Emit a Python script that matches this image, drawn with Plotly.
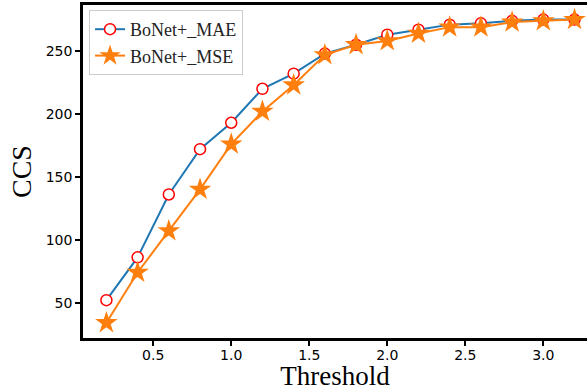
import plotly.graph_objects as go

threshold = [0.2, 0.4, 0.6, 0.8, 1.0, 1.2, 1.4, 1.6, 1.8, 2.0, 2.2, 2.4, 2.6, 2.8, 3.0, 3.2]
ccs_mae = [52, 86, 136, 172, 193, 220, 232, 248, 255, 263, 267, 271, 272, 274, 275, 275]
ccs_mse = [34, 74, 107, 140, 176, 202, 223, 247, 255, 258, 264, 269, 269, 273, 274, 275]
x_ticks = [0.5, 1.0, 1.5, 2.0, 2.5, 3.0]
y_ticks = [50, 100, 150, 200, 250]

fig = go.Figure()
fig.add_trace(go.Scatter(
    x=threshold, y=ccs_mae, mode="lines+markers", name="BoNet+_MAE",
    line=dict(color="#1f77b4", width=2),
    marker=dict(symbol="circle", size=11, color="white", line=dict(color="red", width=1.5)),
))
fig.add_trace(go.Scatter(
    x=threshold, y=ccs_mse, mode="lines+markers", name="BoNet+_MSE",
    line=dict(color="#ff7f0e", width=2),
    marker=dict(symbol="star", size=17, color="#ff7f0e", line=dict(color="#ff7f0e", width=0)),
))

fig.update_layout(
    width=587, height=391,
    margin=dict(l=83, r=0, t=5, b=53),
    paper_bgcolor="white", plot_bgcolor="white",
    showlegend=True,
    legend=dict(
        x=0.012, y=0.985, xanchor="left", yanchor="top",
        font=dict(family="Liberation Serif", size=18, color="#222"),
        bordercolor="#cccccc", borderwidth=1, bgcolor="rgba(255,255,255,0.8)",
        itemwidth=30, tracegroupgap=0,
    ),
    font=dict(family="DejaVu Sans", size=14, color="black"),
)
fig.update_xaxes(
    range=[0.05, 3.28], tickvals=x_ticks, ticktext=[f"{v:.1f}" for v in x_ticks],
    showgrid=False, zeroline=False, showline=True, linecolor="black", linewidth=2.5,
    mirror=True, ticks="outside", ticklen=5, tickwidth=1.5, tickcolor="black",
    ticklabelstandoff=-3,
    title=dict(text="Threshold", font=dict(family="Liberation Serif", size=27, color="black"), standoff=1),
)
fig.update_yaxes(
    range=[21.9, 286.6], tickvals=y_ticks,
    showgrid=False, zeroline=False, showline=True, linecolor="black", linewidth=2.5,
    mirror=False, ticks="outside", ticklen=5, tickwidth=1.5, tickcolor="black",
    title=dict(text="CCS", font=dict(family="Liberation Serif", size=28, color="black"), standoff=6),
)
fig.write_html("out.html", config={"displayModeBar": False},
               post_script="document.body.style.margin='0';document.body.style.overflow='hidden';")
